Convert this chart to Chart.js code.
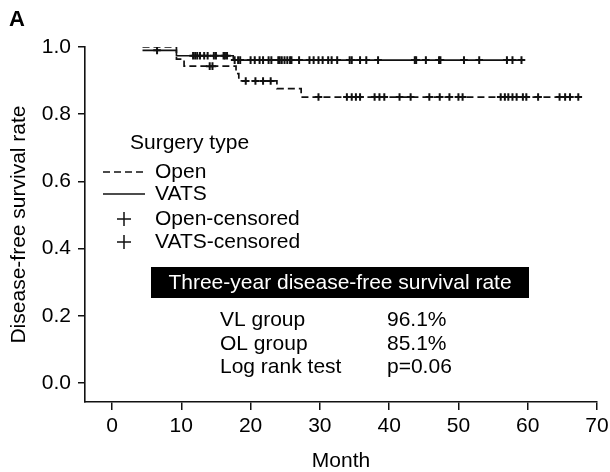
<!DOCTYPE html>
<html>
<head>
<meta charset="utf-8">
<script src="https://cdn.jsdelivr.net/npm/chart.js@4.4.1/dist/chart.umd.min.js"></script>
<style>
  html, body { margin: 0; padding: 0; background: #fff; }
  #wrap { width: 610px; height: 472px; }
</style>
</head>
<body>
<div id="wrap"><canvas id="kmChart" width="610" height="472"></canvas></div>
<script>
// axis ticks
const xTicks = [0, 10, 20, 30, 40, 50, 60, 70];
const yTicks = [0.0, 0.2, 0.4, 0.6, 0.8, 1.0];

// Kaplan-Meier steps (month, survival after that month)
const vatsTimes = [4.4, 9.3, 17.5, 59.4];
const vatsSurv = [0.990, 0.974, 0.961, 0.961];
const openTimes = [4.4, 9.3, 10.4, 17.9, 18.3, 23.8, 27.3, 67.5];
const openSurv = [1.000, 0.964, 0.943, 0.921, 0.899, 0.876, 0.851, 0.851];

// censored observations (month)
const vatsCensored = [6.5, 11.7, 12.0, 12.3, 12.7, 13.3, 13.8, 14.7, 15.0, 16.1, 16.3, 16.6,
    17.7, 18.2, 18.5, 20.0, 20.6, 21.3, 21.8, 22.6, 23.0, 24.0, 24.2, 24.5, 24.9, 25.3, 25.7, 25.9,
    27.0, 28.5, 29.1, 29.8, 30.4, 31.2, 31.7, 32.5, 34.3, 34.6, 35.8, 36.7, 38.4, 43.7, 43.9, 45.3,
    47.2, 47.4, 50.8, 53.0, 57.0, 57.8, 59.1];
const openCensored = [14.1, 14.5, 19.3, 20.7, 21.8, 22.9, 29.8, 33.9, 34.6, 35.2, 35.8, 37.9,
    38.6, 39.3, 41.5, 43.1, 45.8, 47.3, 48.7, 50.0, 50.6, 56.1, 56.7, 57.2, 57.8, 58.4, 59.3,
    59.8, 61.5, 64.6, 65.4, 66.1, 67.3];

// text
const legendTitle = 'Surgery type';
const legendLabels = ['Open', 'VATS', 'Open-censored', 'VATS-censored'];
const boxTitle = 'Three-year disease-free survival rate';
const tableNames = ['VL group', 'OL group', 'Log rank test'];
const tableValues = ['96.1%', '85.1%', 'p=0.06'];

const FONT = '"Liberation Sans", Arial, Helvetica, sans-serif';
const INK = '#111';

function survAt(times, surv, t) {
    let s = surv[0];
    for (let i = 0; i < times.length; i++) {
        if (times[i] <= t) s = surv[i];
    }
    return s;
}

function stepPoints(times, surv) {
    return times.map((t, i) => ({ x: t, y: surv[i] }));
}

function censorPoints(list, times, surv) {
    return list.map(t => ({ x: t, y: survAt(times, surv, t) }));
}

// legend, label "A" and the result table
const annotations = {
    id: 'annotations',
    afterDraw(chart) {
        const ctx = chart.ctx;
        ctx.save();
        ctx.fillStyle = '#000';
        ctx.textBaseline = 'middle';
        ctx.textAlign = 'left';

        ctx.font = 'bold 22px ' + FONT;
        ctx.fillText('A', 9, 20);

        ctx.font = '21px ' + FONT;
        ctx.fillText(legendTitle, 130, 143);

        ctx.strokeStyle = INK;
        ctx.lineWidth = 1.5;
        const rows = [172, 194, 219, 242];
        // dashed sample
        ctx.setLineDash([7, 4]);
        ctx.beginPath(); ctx.moveTo(103, rows[0]); ctx.lineTo(145, rows[0]); ctx.stroke();
        ctx.setLineDash([]);
        ctx.beginPath(); ctx.moveTo(103, rows[1]); ctx.lineTo(145, rows[1]); ctx.stroke();
        [rows[2], rows[3]].forEach(y => {
            ctx.beginPath();
            ctx.moveTo(117, y); ctx.lineTo(131, y);
            ctx.moveTo(124, y - 7); ctx.lineTo(124, y + 7);
            ctx.stroke();
        });
        legendLabels.forEach((txt, i) => ctx.fillText(txt, 155, rows[i]));

        // black heading box
        ctx.fillStyle = '#000';
        ctx.fillRect(151, 267, 378, 31);
        ctx.fillStyle = '#fff';
        ctx.textAlign = 'center';
        ctx.fillText(boxTitle, 340, 283);

        ctx.fillStyle = '#000';
        ctx.textAlign = 'left';
        const tableY = [320, 344, 367];
        tableNames.forEach((txt, i) => {
            ctx.fillText(txt, 220, tableY[i]);
            ctx.fillText(tableValues[i], 387, tableY[i]);
        });
        ctx.restore();
    }
};

Chart.defaults.font.family = FONT;
Chart.defaults.color = '#000';

const ctx = document.getElementById('kmChart').getContext('2d');
new Chart(ctx, {
    type: 'scatter',
    data: {
        datasets: [{
            label: 'Open',
            data: stepPoints(openTimes, openSurv),
            showLine: true,
            stepped: true,
            borderColor: INK,
            borderWidth: 1.7,
            borderDash: [7, 4],
            pointRadius: 0,
            fill: false
        }, {
            label: 'VATS',
            data: stepPoints(vatsTimes, vatsSurv),
            showLine: true,
            stepped: true,
            borderColor: INK,
            borderWidth: 1.6,
            pointRadius: 0,
            fill: false
        }, {
            label: 'Open-censored',
            data: censorPoints(openCensored, openTimes, openSurv),
            showLine: false,
            pointStyle: 'cross',
            pointRadius: 3.8,
            pointBorderColor: INK,
            pointBorderWidth: 2
        }, {
            label: 'VATS-censored',
            data: censorPoints(vatsCensored, vatsTimes, vatsSurv),
            showLine: false,
            pointStyle: 'cross',
            pointRadius: 3.8,
            pointBorderColor: INK,
            pointBorderWidth: 2
        }]
    },
    options: {
        responsive: false,
        animation: false,
        devicePixelRatio: 1,
        layout: {
            padding: { top: 47, right: 13, bottom: 0, left: 0 }
        },
        plugins: {
            legend: { display: false },
            tooltip: { enabled: false }
        },
        scales: {
            x: {
                type: 'linear',
                min: -3.9,
                max: 70,
                afterBuildTicks: s => { s.ticks = xTicks.map(v => ({ value: v })); },
                afterFit: s => { s.height = 70; s.paddingLeft = 0; s.paddingRight = 0; },
                grid: {
                    drawOnChartArea: false,
                    drawTicks: true,
                    tickLength: 8,
                    color: INK,
                    lineWidth: 1.5
                },
                border: { display: true, color: INK, width: 1.6 },
                ticks: {
                    color: '#000',
                    font: { size: 21 },
                    padding: 4,
                    maxRotation: 0,
                    autoSkip: false,
                    callback: v => String(v)
                },
                title: {
                    display: true,
                    text: 'Month',
                    color: '#000',
                    font: { size: 21, lineHeight: 1 },
                    padding: 0
                }
            },
            y: {
                type: 'linear',
                min: -0.0565,
                max: 1.0,
                afterBuildTicks: s => { s.ticks = yTicks.map(v => ({ value: v })); },
                afterFit: s => { s.width = 85; s.paddingTop = 0; s.paddingBottom = 0; },
                grid: {
                    drawOnChartArea: false,
                    drawTicks: true,
                    tickLength: 7,
                    color: INK,
                    lineWidth: 1.5
                },
                border: { display: true, color: INK, width: 1.6 },
                ticks: {
                    color: '#000',
                    font: { size: 21 },
                    padding: 7,
                    autoSkip: false,
                    callback: v => v.toFixed(1)
                },
                title: {
                    display: true,
                    text: 'Disease-free survival rate',
                    color: '#000',
                    font: { size: 21 },
                    padding: { top: 7, bottom: 0 }
                }
            }
        }
    },
    plugins: [annotations]
});
</script>
</body>
</html>
